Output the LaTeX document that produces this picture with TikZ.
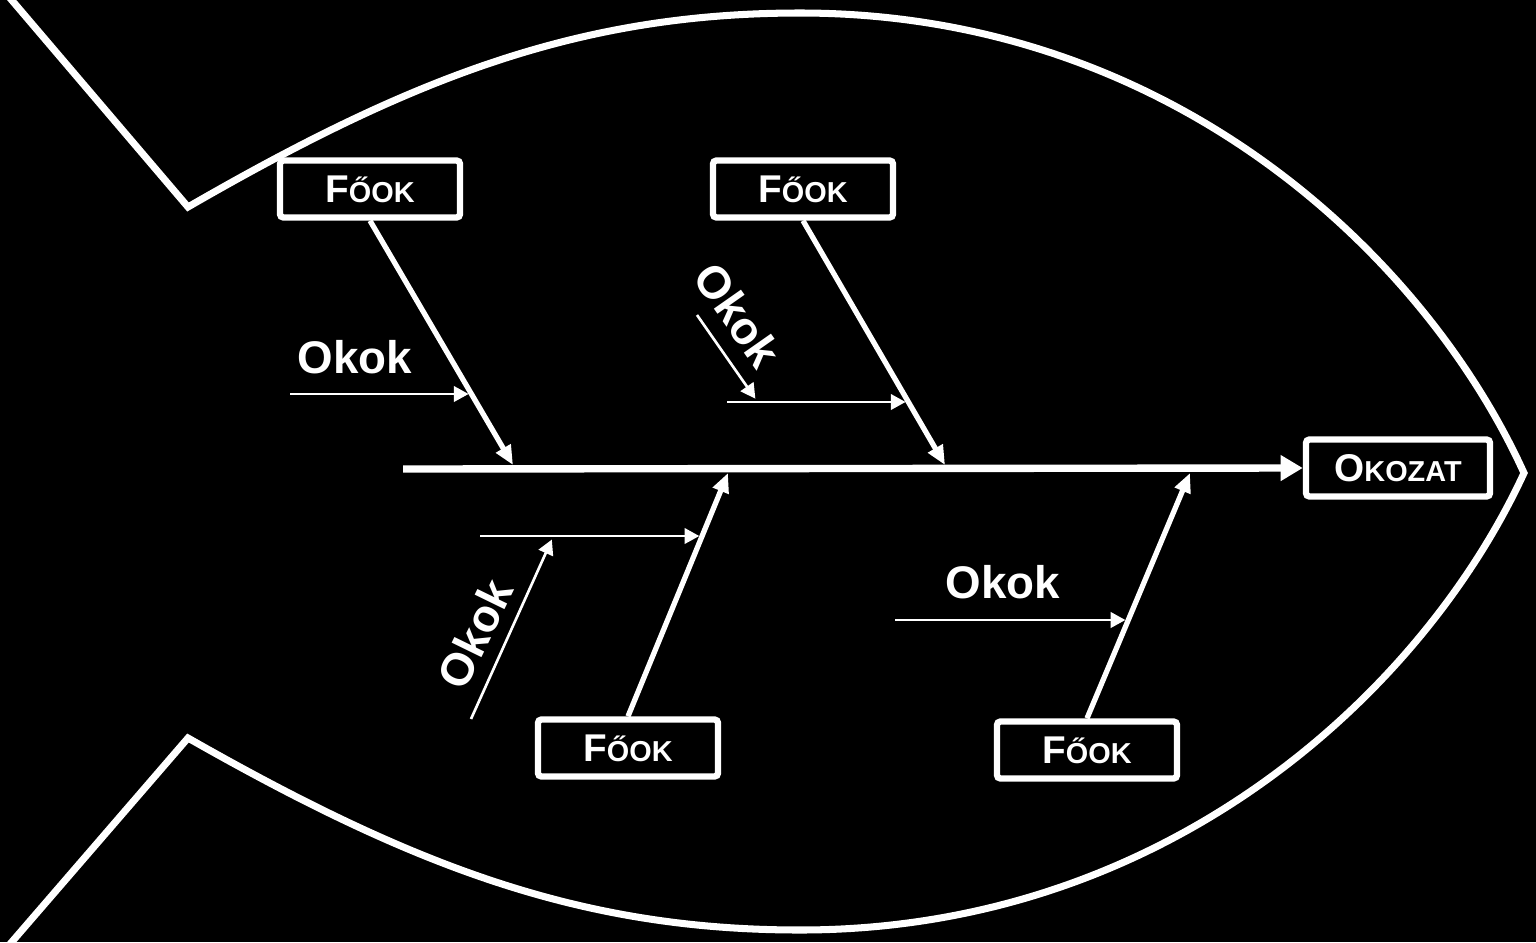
\documentclass[tikz,border=0pt]{standalone}
\usepackage{fontspec}
\setmainfont{Liberation Sans}
\usetikzlibrary{arrows.meta,calc}
\newcommand{\kis}[2]{#1{\fontsize{8.2}{8}\selectfont#2}}

\begin{document}
\begin{tikzpicture}[x=.01cm,y=-.01cm,
doboz/.style={draw=white,line width=1.8pt,rounded corners=1pt,minimum width=1.8cm,minimum height=.57cm,inner sep=0pt,text=white,font=\bfseries\fontsize{11}{11}\selectfont},
csont/.style={white,line width=1.5pt,-{Triangle[length=5.5pt,width=4.6pt]}},
ag/.style={white,line width=.75pt,shorten >=.8pt,-{Triangle[length=4.2pt,width=4.4pt]}},
okok/.style={text=white,inner sep=0pt,font=\bfseries\fontsize{13}{13}\selectfont}]
\useasboundingbox(0,0)rectangle(1536,942);\fill[black](0,0)rectangle(1536,942);
\draw[white,line width=2pt](4,-9)--(188,207)..controls(413,77)and(580,13)..(800,13)..controls(1170,13)and(1425,255)..(1524,473)..controls(1425,688)and(1170,930)..(800,930)..controls(580,930)and(413,866)..(188,738)--(4,951);
\node[doboz](fo1)at(370,189){\kis{F}{ŐOK}};\node[doboz](fo2)at(803,189){\kis{F}{ŐOK}};
\node[doboz](fo3)at(628,748){\kis{F}{ŐOK}};\node[doboz](fo4)at(1087,750){\kis{F}{ŐOK}};
\node[doboz,minimum width=1.84cm](okozat)at(1398,468){\kis{O}{KOZAT}};
\coordinate(fej)at(403,469);\draw[white,line width=2.1pt,-{Triangle[length=6.3pt,width=7pt]}](fej)--(okozat.west);
\coordinate(g1)at(513,465);\coordinate(g2)at(945,465);\coordinate(g3)at(728,473);\coordinate(g4)at(1190,473);
\draw[csont](fo1.south)--(g1);\draw[csont](fo2.south)--(g2);\draw[csont](fo3.north)--(g3);\draw[csont](fo4.north)--(g4);
\coordinate(a1)at(290,394);\coordinate(b1)at($(fo1.south)!.709!(g1)$);\draw[ag](a1)--(a1-|b1);
\coordinate(a2)at(727,402);\coordinate(b2)at($(fo2.south)!.742!(g2)$);\draw[ag](a2)--(a2-|b2);
\coordinate(c2)at(697,315);\coordinate(e2)at(757,401);\draw[ag](c2)--(e2);
\coordinate(a3)at(480,536);\coordinate(b3)at($(fo3.north)!.741!(g3)$);\draw[ag](a3)--(a3-|b3);
\coordinate(c3)at(471,719);\coordinate(e3)at(553,537);\draw[ag](c3)--(e3);
\coordinate(a4)at(895,620);\coordinate(b4)at($(fo4.north)!.4!(g4)$);\draw[ag](a4)--(a4-|b4);
\node[okok](ok1)at(355,357){Okok};\node[okok,rotate=-55](ok2)at(738,315){Okok};
\node[okok,rotate=64](ok3)at(475,634){Okok};\node[okok](ok4)at(1003,582){Okok};
\end{tikzpicture}
\end{document}
